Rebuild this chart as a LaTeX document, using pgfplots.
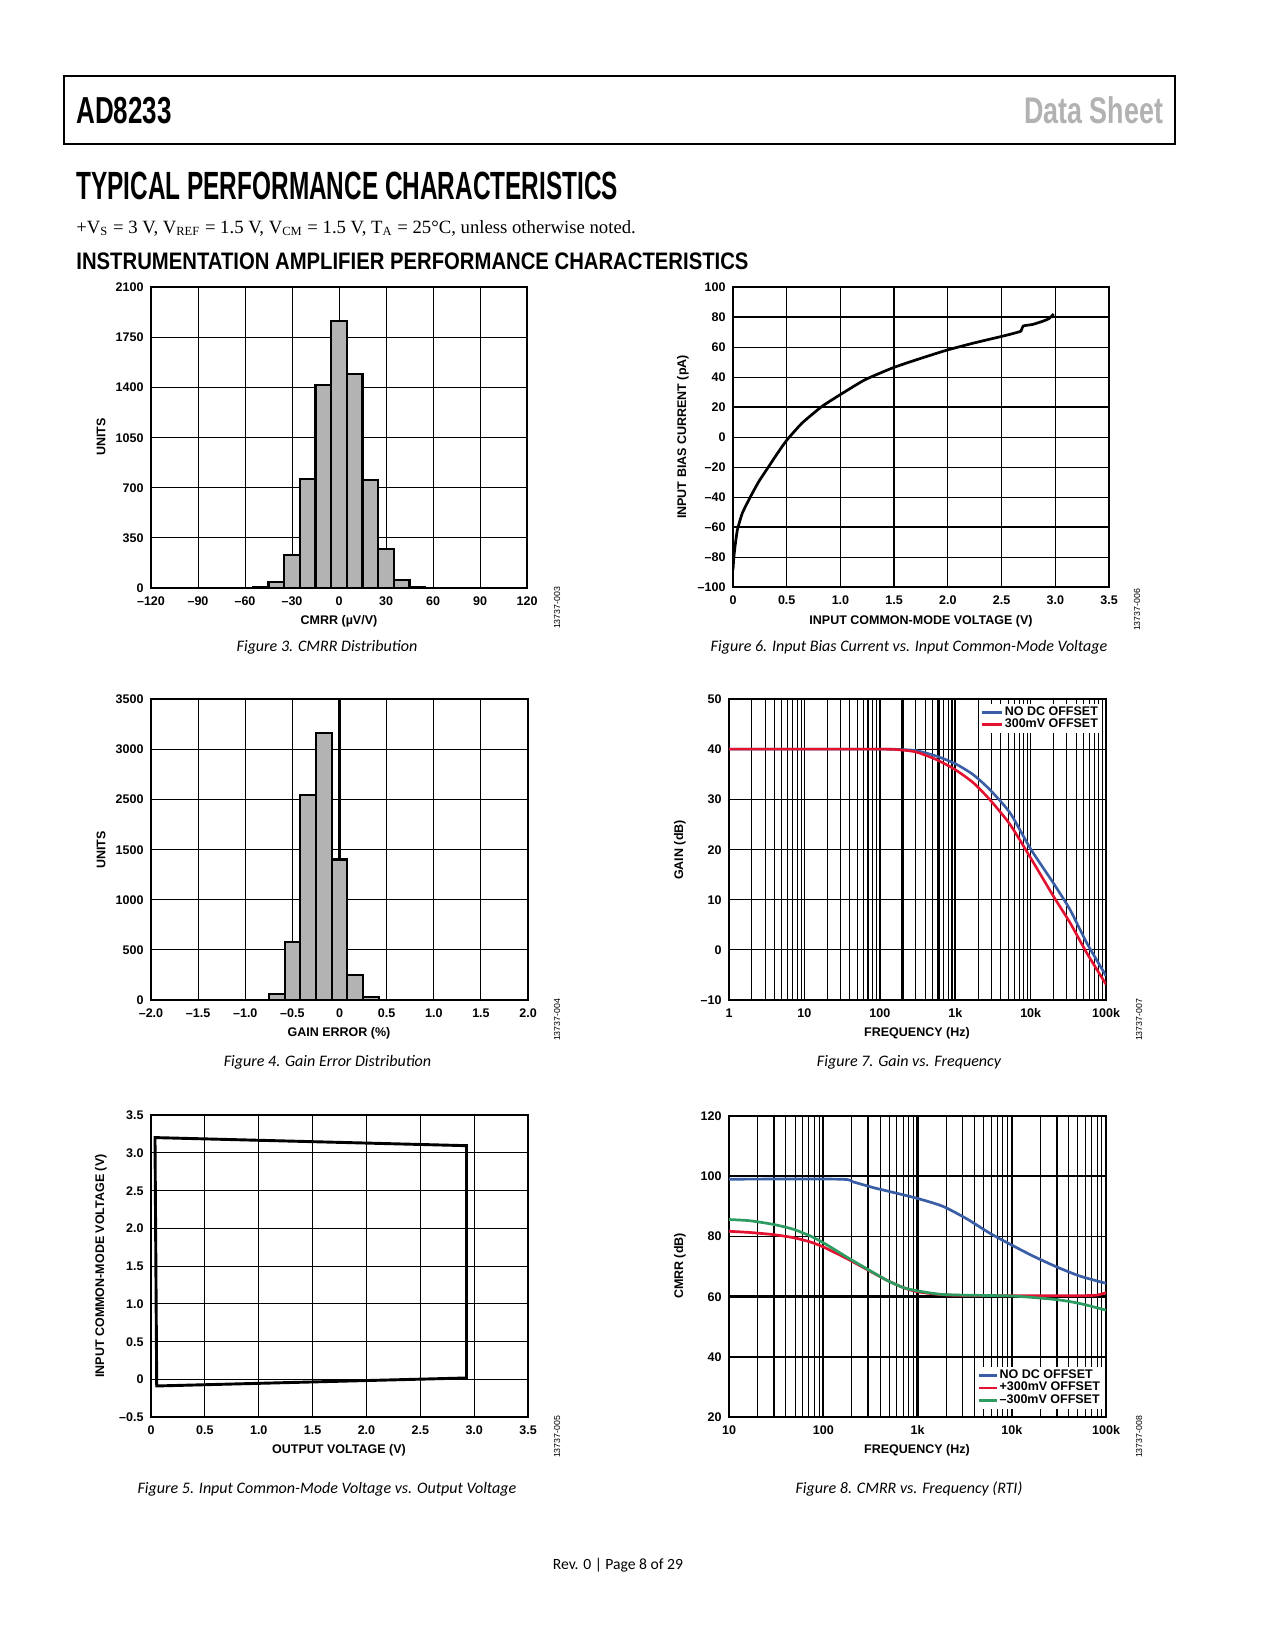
\documentclass[border=0pt]{standalone}
\usepackage{graphicx}
\usepackage{fontspec}
\usepackage{pgfplots}
\pgfplotsset{compat=1.18}
\setmainfont{Liberation Sans}
\newfontfamily\capf{Carlito}
\newfontfamily\serf{Liberation Serif}
\definecolor{cblue}{RGB}{58,94,165}
\definecolor{cred}{RGB}{226,18,48}
\definecolor{cgreen}{RGB}{44,156,96}
\definecolor{barg}{RGB}{179,179,179}
\definecolor{hgray}{RGB}{178,178,178}
\newcommand{\tickf}{\bfseries\fontsize{6}{6.5}\selectfont}
\newcommand{\codef}{\fontsize{4.2}{5}\selectfont}
\newcommand{\capfont}{\capf\itshape\fontsize{7.7}{9}\selectfont}
\pgfplotsset{
  adi/.style={
    scale only axis,
    width=181pt, height=144.5pt,
    anchor=south west,
    axis line style={black, line width=0.9pt},
    grid=major,
    major grid style={black, line width=0.45pt},
    minor grid style={black, line width=0.35pt},
    major tick length=0pt, minor tick length=0pt,
    tick label style={font=\tickf},
    xticklabel style={inner sep=0pt, text height=4.4pt, text depth=0pt, anchor=north, yshift=-3.8pt},
    yticklabel style={inner sep=0pt, text height=4.4pt, text depth=0pt, anchor=east, xshift=-3.4pt},
  },
  thickgrid/.style={extra x tick labels={}, extra y tick labels={},
    extra tick style={major grid style={black, line width=1.1pt}}},
  adileg/.style={legend cell align=left, legend style={draw=none, fill=white,
    inner sep=0.6pt, font=\tickf, row sep=-1pt, nodes={inner sep=0.6pt}}},
}
\begin{document}
\begin{tikzpicture}
\begin{scope}[x=0.48pt, y=-0.48pt]
  \fill[white] (0,0) rectangle (1275,1650);
  \path[use as bounding box] (0,0) rectangle (1275,1650);
  \coordinate (A3) at (151,588);
  \coordinate (A6) at (733,587);
  \coordinate (A4) at (151,1000);
  \coordinate (A7) at (729,1000);
  \coordinate (A5) at (151,1417);
  \coordinate (A8) at (729,1417);
\end{scope}

% Figure 3
\begin{axis}[adi, at={(A3)}, width=180.5pt,
  xmin=-120, xmax=120, ymin=0, ymax=2100,
  xtick={-120,-90,-60,-30,0,30,60,90,120},
  xticklabels={–120,–90,–60,–30,0,30,60,90,120},
  ytick={0,350,700,1050,1400,1750,2100},
  yticklabels={0,350,700,1050,1400,1750,2100}]
\addplot[ybar interval, fill=barg, draw=black, line width=1pt] coordinates {
(-55,10) (-45,44) (-35,230) (-25,758) (-15,1419) (-5,1865) (5,1495) (15,753) (25,274) (35,58) (45,10) (55,0)};
\end{axis}

% Figure 6
\begin{axis}[adi, at={(A6)}, width=180.5pt, height=144pt,
  xmin=0, xmax=3.5, ymin=-100, ymax=100,
  xtick={0,0.5,1,1.5,2,2.5,3,3.5},
  xticklabels={0,0.5,1.0,1.5,2.0,2.5,3.0,3.5},
  ytick={-100,-80,-60,-40,-20,0,20,40,60,80,100},
  yticklabels={–100,–80,–60,–40,–20,0,20,40,60,80,100},
  extra x ticks={1.5}, extra y ticks={-60,20,80}, thickgrid]
\addplot[black, line width=1.3pt, line join=round, smooth, tension=0.3] coordinates {
(0,-88.5) (0.008,-80) (0.019,-72.9) (0.041,-61.8) (0.087,-50.7) (0.164,-39.6)
(0.241,-29.6) (0.333,-19.6) (0.426,-9.6) (0.504,-1.8) (0.643,9.3) (0.828,20.4)
(1.013,28.9) (1.229,38.2) (1.494,46.3) (1.742,52.3) (1.99,57.9) (2.238,62.6)
(2.479,66.7) (2.602,68.9) (2.68,70.6) (2.70,74.0) (2.787,75.0) (2.88,77.1) (2.94,78.9) (2.985,82.0)};
\end{axis}

% Figure 4
\begin{axis}[adi, at={(A4)},
  xmin=-2, xmax=2, ymin=0, ymax=3000,
  xtick={-2,-1.5,-1,-0.5,0,0.5,1,1.5,2},
  xticklabels={–2.0,–1.5,–1.0,–0.5,0,0.5,1.0,1.5,2.0},
  ytick={0,500,1000,1500,2000,2500,3000},
  yticklabels={0,500,1000,1500,2500,3000,3500},
  extra x ticks={0}, thickgrid]
\addplot[ybar interval, fill=barg, draw=black, line width=1pt] coordinates {
(-0.75,57) (-0.5833,577) (-0.4167,2043) (-0.25,2660) (-0.0833,1400) (0.0833,253) (0.25,27) (0.4167,0)};
\end{axis}

% Figure 7
\begin{axis}[adi, adileg, at={(A7)},
  xmode=log, xmin=1, xmax=100000, ymin=-10, ymax=50,
  grid=both,
  xtick={1,10,100,1000,10000,100000},
  xticklabels={1,10,100,1k,10k,100k},
  minor xtick={2,3,4,5,6,7,8,9,20,30,40,50,60,70,80,90,200,300,400,500,600,700,800,900,2000,3000,4000,5000,6000,7000,8000,9000,20000,30000,40000,50000,60000,70000,80000,90000},
  ytick={-10,0,10,20,30,40,50},
  yticklabels={–10,0,10,20,30,40,50},
  extra x ticks={70,100,200,600,900,1000}, thickgrid,
  legend style={at={(1,1)}, anchor=north east, xshift=-2.5pt, yshift=-2.2pt},
  legend image code/.code={\draw[#1] (0pt,0pt) -- (10pt,0pt);}]
\addplot[cblue, line width=1.25pt, smooth, tension=0.4] coordinates {
(1,40) (100,40) (200,39.9) (307,39.7) (565,38.6) (1000,37.1) (1734,34.9) (2884,31.9)
(5318,27.3) (10000,20.1) (20000,13.3) (33260,8.0) (55340,1.4) (100000,-5.2)};
\addlegendentry{NO DC OFFSET}
\addplot[cred, line width=1.25pt, smooth, tension=0.4] coordinates {
(1,40) (100,40) (200,39.8) (307,39.4) (565,37.9) (1000,35.9) (1734,33.3) (2884,29.9)
(5318,25.0) (10000,18.3) (20000,10.7) (33260,5.4) (55340,-0.6) (100000,-6.9)};
\addlegendentry{300mV OFFSET}
\end{axis}

% Figure 5
\begin{axis}[adi, at={(A5)}, height=145pt,
  xmin=0, xmax=3.5, ymin=-0.5, ymax=3.5,
  xtick={0,0.5,1,1.5,2,2.5,3,3.5},
  xticklabels={0,0.5,1.0,1.5,2.0,2.5,3.0,3.5},
  ytick={-0.5,0,0.5,1,1.5,2,2.5,3,3.5},
  yticklabels={–0.5,0,0.5,1.0,1.5,2.0,2.5,3.0,3.5}]
\addplot[black, line width=1.4pt, line join=miter] coordinates {
(0.037,3.20) (2.928,3.093) (2.928,0.017) (0.053,-0.089) (0.037,3.20) (2.928,3.093)};
\end{axis}

% Figure 8
\begin{axis}[adi, adileg, at={(A8)},
  xmode=log, xmin=10, xmax=100000, ymin=20, ymax=120,
  grid=both,
  xtick={10,100,1000,10000,100000},
  xticklabels={10,100,1k,10k,100k},
  minor xtick={20,30,40,50,60,70,80,90,200,300,400,500,600,700,800,900,2000,3000,4000,5000,6000,7000,8000,9000,20000,30000,40000,50000,60000,70000,80000,90000},
  ytick={20,40,60,80,100,120},
  yticklabels={20,40,60,80,100,120},
  extra x ticks={30,100,300,1000,10000,30000}, extra y ticks={40,60,100}, thickgrid,
  legend style={at={(1,0)}, anchor=south east, xshift=-1.5pt, yshift=3.8pt},
  legend image code/.code={\draw[#1] (0pt,0pt) -- (8.8pt,0pt);}]
\addplot[cblue, line width=1.3pt, smooth, tension=0.4] coordinates {
(10,99) (150,99) (207,98.1) (339,96.2) (553,94.6) (1000,92.6) (1850,90.0) (3300,85.9)
(5880,81.0) (10000,77.1) (16700,73.5) (29700,69.9) (52800,66.8) (100000,64.4)};
\addlegendentry{NO DC OFFSET}
\addplot[cred, line width=1.3pt, smooth, tension=0.4] coordinates {
(10,81.7) (16.6,81.3) (29.3,80.6) (47.8,79.6) (72,78.2) (100,76.5) (176,72.7) (287,69.1)
(468,65.5) (705,63.0) (1000,61.6) (1700,60.7) (2800,60.4) (10000,60.3) (52800,60.3) (80000,60.5) (100000,61.3)};
\addlegendentry{+300mV OFFSET}
\addplot[cgreen, line width=1.3pt, smooth, tension=0.4] coordinates {
(10,85.6) (16.6,85.2) (29.3,84.0) (47.8,82.4) (72,80.2) (100,77.9) (176,73.2) (287,69.3)
(468,65.5) (705,63.0) (1000,61.9) (1700,60.8) (2800,60.5) (10000,60.2) (29700,59.0) (52800,57.7) (100000,55.5)};
\addlegendentry{–300mV OFFSET}
\end{axis}

\begin{scope}[x=0.48pt, y=-0.48pt]
  % header
  \draw[line width=1pt] (64,76) rectangle (1175,144);
  \node[anchor=west, inner sep=0] at (76,110.5) {\resizebox{45.8pt}{12.6pt}{\bfseries AD8233}};
  \node[anchor=east, inner sep=0, text=hgray] at (1163.5,110.5) {\resizebox{66.7pt}{12.9pt}{\bfseries Data Sheet}};
  \node[anchor=west, inner sep=0] at (76,186) {\resizebox{260pt}{13.2pt}{\bfseries TYPICAL PERFORMANCE CHARACTERISTICS}};
  \node[anchor=base west, inner sep=0] at (76,233.5) {\resizebox{268.5pt}{!}{\serf\fontsize{9}{10}\selectfont +V\textsubscript{S} = 3 V, V\textsubscript{REF} = 1.5 V, V\textsubscript{CM} = 1.5 V, T\textsubscript{A} = 25°C, unless otherwise noted.}};
  \node[anchor=west, inner sep=0] at (76,261) {\resizebox{322.6pt}{8pt}{\bfseries INSTRUMENTATION AMPLIFIER PERFORMANCE CHARACTERISTICS}};
  % axis labels
  \tikzset{axlab/.style={inner sep=0, font=\tickf}}
  \node[axlab, rotate=90] at (101,437) {UNITS};
  \node[axlab] at (339,621) {CMRR (µV/V)};
  \node[axlab, rotate=90] at (683,437) {INPUT BIAS CURRENT (pA)};
  \node[axlab] at (921,621) {INPUT COMMON-MODE VOLTAGE (V)};
  \node[axlab, rotate=90] at (101,850) {UNITS};
  \node[axlab] at (339,1033) {GAIN ERROR (\%)};
  \node[axlab, rotate=90] at (680,850) {GAIN (dB)};
  \node[axlab] at (917,1033) {FREQUENCY (Hz)};
  \node[axlab, rotate=90] at (101,1266) {INPUT COMMON-MODE VOLTAGE (V)};
  \node[axlab] at (339,1450) {OUTPUT VOLTAGE (V)};
  \node[axlab, rotate=90] at (680,1266) {CMRR (dB)};
  \node[axlab] at (917,1450) {FREQUENCY (Hz)};
  % side codes
  \tikzset{sidecode/.style={inner sep=0, rotate=90, font=\codef}}
  \node[sidecode] at (557,608) {13737-003};
  \node[sidecode] at (1137,610) {13737-006};
  \node[sidecode] at (557,1020) {13737-004};
  \node[sidecode] at (1139,1020) {13737-007};
  \node[sidecode] at (557,1437) {13737-005};
  \node[sidecode] at (1139,1437) {13737-008};
  % captions
  \tikzset{figcap/.style={inner sep=0, font=\capfont}}
  \node[figcap] at (327,647) {Figure 3. CMRR Distribution};
  \node[figcap] at (909,647) {Figure 6. Input Bias Current vs. Input Common-Mode Voltage};
  \node[figcap] at (327.5,1062) {Figure 4. Gain Error Distribution};
  \node[figcap] at (909,1062) {Figure 7. Gain vs. Frequency};
  \node[figcap] at (327,1489) {Figure 5. Input Common-Mode Voltage vs. Output Voltage};
  \node[figcap] at (909,1489) {Figure 8. CMRR vs. Frequency (RTI)};
  % footer
  \node[inner sep=0, font=\capf\fontsize{7.5}{9}\selectfont] at (618,1565) {Rev. 0 | Page 8 of 29};
\end{scope}
\end{tikzpicture}
\end{document}
